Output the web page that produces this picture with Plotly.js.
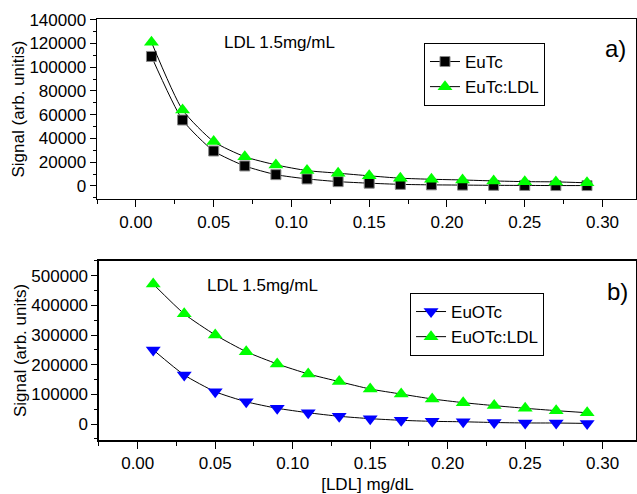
<!DOCTYPE html>
<html><head><meta charset="utf-8">
<script src="https://cdn.plot.ly/plotly-3.0.1.min.js"></script>
<style>html,body{margin:0;padding:0;background:#fff}#chart{width:637px;height:494px}</style>
</head><body><div id="chart"></div>
<script>
const ldl = [0.01,0.03,0.05,0.07,0.09,0.11,0.13,0.15,0.17,0.19,0.21,0.23,0.25,0.27,0.29];
const euTc = [109000,55500,29400,16800,9500,5900,3600,2300,1300,900,700,500,400,300,300];
const euTcLDL = [121000,64000,37300,24600,17700,12900,10700,8500,6500,5600,5000,4200,3600,3400,2600];
const euOTc = [250000,165500,109000,75000,53000,38000,26000,18000,12500,9000,7500,5000,3500,3300,2000];
const euOTcLDL = [472000,371600,300600,244000,202700,169000,143000,118000,101000,84500,72000,62000,53000,45000,38000];
const xTicks = [0,0.05,0.10,0.15,0.20,0.25,0.30];
const xTickText = ['0.00','0.05','0.10','0.15','0.20','0.25','0.30'];

const font = {family:'Liberation Sans, Arial, sans-serif', size:17, color:'#000'};
const lineStyle = {color:'#000', width:1, shape:'spline', smoothing:0.6};

const traces = [
  {x:ldl, y:euTc, name:'EuTc', mode:'lines+markers', line:lineStyle,
   marker:{symbol:'square', size:10, color:'#000', line:{color:'#888', width:1}}, xaxis:'x', yaxis:'y', legend:'legend'},
  {x:ldl, y:euTcLDL, name:'EuTc:LDL', mode:'lines+markers', line:lineStyle,
   marker:{symbol:'triangle-up', size:13, color:'#00ff00', line:{width:0}}, xaxis:'x', yaxis:'y', legend:'legend'},
  {x:ldl, y:euOTc, name:'EuOTc', mode:'lines+markers', line:lineStyle,
   marker:{symbol:'triangle-down', size:13, color:'#0000ff', line:{width:0}}, xaxis:'x2', yaxis:'y2', legend:'legend2'},
  {x:ldl, y:euOTcLDL, name:'EuOTc:LDL', mode:'lines+markers', line:lineStyle,
   marker:{symbol:'triangle-up', size:13, color:'#00ff00', line:{width:0}}, xaxis:'x2', yaxis:'y2', legend:'legend2'}
];

function xax(dom, anchor, title){
  return {domain:dom, anchor:anchor, range:[-0.025,0.3215], tickvals:xTicks, ticktext:xTickText,
    ticks:'outside', ticklen:7, tickwidth:1, tickcolor:'#000',
    minor:{dtick:0.025, tick0:0, ticks:'outside', ticklen:4, tickcolor:'#000'},
    showline:true, linecolor:'#000', linewidth:1.5, mirror:true, showgrid:false, zeroline:false,
    tickfont:font, title:{text:title, font:font, standoff:10}};
}
function yax(dom, anchor, range, dtick, minor, title){
  return {domain:dom, anchor:anchor, range:range, dtick:dtick, tick0:0, tickformat:'d',
    ticks:'outside', ticklen:6, tickwidth:1, tickcolor:'#000',
    minor:{dtick:minor, tick0:0, ticks:'outside', ticklen:3, tickcolor:'#000'},
    showline:true, linecolor:'#000', linewidth:1.5, mirror:true, showgrid:false, zeroline:false,
    tickfont:font, title:{text:title, font:font, standoff:0}};
}

const layout = {
  width:637, height:494, margin:{l:0,r:0,t:0,b:0}, paper_bgcolor:'#fff', plot_bgcolor:'#fff',
  font:font, showlegend:true,
  xaxis: xax([0.1523,0.9984],'y',''),
  yaxis: yax([0.5972,0.9615],'x',[-11000,140500],20000,10000,'Signal (arb. unitis)'),
  xaxis2: xax([0.1554,0.9984],'y2','[LDL] mg/dL'),
  yaxis2: yax([0.1093,0.4717],'x2',[-54000,550000],100000,50000,'Signal (arb. units)'),
  legend:{x:0.6656, y:0.913, xanchor:'left', yanchor:'top', bordercolor:'#000', borderwidth:1,
    bgcolor:'#fff', font:font, tracegroupgap:0, itemwidth:30},
  legend2:{x:0.6437, y:0.4069, xanchor:'left', yanchor:'top', bordercolor:'#000', borderwidth:1,
    bgcolor:'#fff', font:font, tracegroupgap:0, itemwidth:30},
  annotations:[
    {text:'LDL 1.5mg/mL', xref:'paper', yref:'paper', x:222/637, y:(494-43)/494, xanchor:'left', yanchor:'middle', showarrow:false, font:font},
    {text:'LDL 1.5mg/mL', xref:'paper', yref:'paper', x:205/637, y:(494-285)/494, xanchor:'left', yanchor:'middle', showarrow:false, font:font},
    {text:'a)', xref:'paper', yref:'paper', x:603/637, y:(494-48)/494, xanchor:'left', yanchor:'middle', showarrow:false, font:{family:font.family, size:24, color:'#000'}},
    {text:'b)', xref:'paper', yref:'paper', x:605/637, y:(494-291)/494, xanchor:'left', yanchor:'middle', showarrow:false, font:{family:font.family, size:24, color:'#000'}}
  ]
};
Plotly.newPlot('chart', traces, layout, {displayModeBar:false, staticPlot:true});
</script></body></html>
